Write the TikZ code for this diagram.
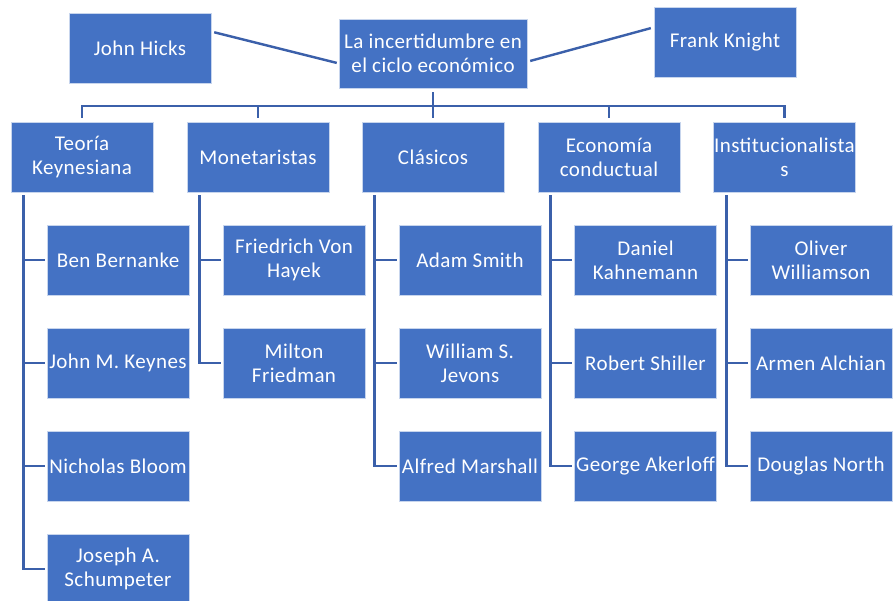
\documentclass[tikz,border=0pt]{standalone}
\usepackage{fontspec}
\setmainfont{Carlito}[LetterSpace=2]
\usepackage{tikz}

\definecolor{boxblue}{HTML}{4472C4}
\definecolor{linkblue}{HTML}{3B60AA}

\tikzset{
  box/.style={rectangle,fill=boxblue,draw=white!70!boxblue,line width=0.6pt,
    minimum width=142pt,minimum height=70pt,inner sep=0pt,text=white,align=center,
    font=\fontsize{21}{24}\selectfont},
  link/.style={draw=linkblue,line width=2.6pt}
}

\begin{document}
\begin{tikzpicture}[x=1pt,y=-1pt]
 \useasboundingbox[fill=white] (0,0) rectangle (893,601);
 % top row
 \node[box,minimum width=188pt,minimum height=69pt] (root) at (433,53.5) {La incertidumbre en\\el ciclo económico};
 \node[box] (hicks) at (140,48) {John Hicks};
 \node[box] (knight) at (725,42.5) {Frank Knight};
 \draw[link,line width=2.4pt,shorten <=3pt,shorten >=2pt] (hicks.13) -- (root.186);
 \draw[link,line width=2.4pt,shorten <=3pt,shorten >=3pt] (root.-5) -- (knight.168);
 % schools
 \node[box] (keynes) at (82,157) {Teoría\\Keynesiana};
 \node[box] (monet) at (258,157) {Monetaristas};
 \node[box] (clas) at (433,157) {Clásicos};
 \node[box] (conduct) at (609,157) {Economía\\conductual};
 \node[box] (instit) at (784.5,157) {Institucionalista\\s};
 \coordinate (bar) at (433,106);
 \foreach \c in {keynes,monet,clas,conduct,instit}
  \draw[link,shorten <=4pt,shorten >=4pt] (root.south) -- (root.south |- bar) -| (\c.north);
 % authors
 \node[box] (bernanke) at (118,260) {Ben Bernanke};
 \node[box] (jmkeynes) at (118,363) {John M. Keynes};
 \node[box] (bloom) at (118,466) {Nicholas Bloom};
 \node[box] (schump) at (118,569) {Joseph A.\\Schumpeter};
 \node[box] (hayek) at (294,260) {Friedrich Von\\Hayek};
 \node[box] (friedman) at (294,363) {Milton\\Friedman};
 \node[box] (smith) at (470,260) {Adam Smith};
 \node[box] (jevons) at (470,363) {William S.\\Jevons};
 \node[box] (marshall) at (470,466) {Alfred Marshall};
 \node[box] (kahneman) at (645.5,260) {Daniel\\Kahnemann};
 \node[box] (shiller) at (645.5,363) {Robert Shiller};
 \node[box] (akerloff) at (645.5,466) {George Akerloff};
 \node[box] (williamson) at (821,260) {Oliver\\Williamson};
 \node[box] (alchian) at (821,363) {Armen Alchian};
 \node[box] (north) at (821,466) {Douglas North};
 \foreach \p/\c in {keynes/bernanke,keynes/jmkeynes,keynes/bloom,keynes/schump,
   monet/hayek,monet/friedman,clas/smith,clas/jevons,clas/marshall,
   conduct/kahneman,conduct/shiller,conduct/akerloff,
   instit/williamson,instit/alchian,instit/north}
  \draw[link,shorten <=3pt,shorten >=2pt] ([xshift=13pt]\p.south west) |- (\c.west);
\end{tikzpicture}
\end{document}
